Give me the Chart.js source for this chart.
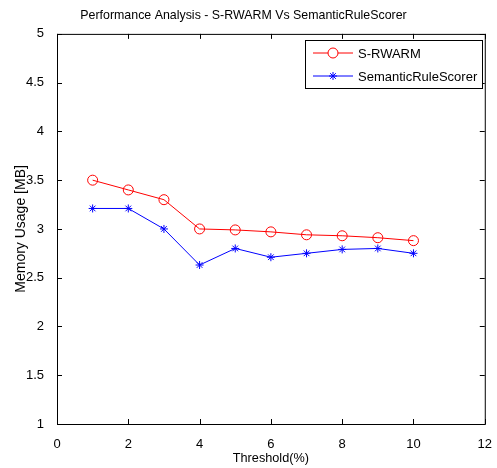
<!DOCTYPE html>
<html>
<head>
<meta charset="utf-8">
<script src="https://cdn.jsdelivr.net/npm/chart.js@4.4.1/dist/chart.umd.min.js"></script>
<style>
  html, body { margin: 0; padding: 0; background: #fff; }
  #wrap { width: 497px; height: 468px; }
</style>
</head>
<body>
<div id="wrap"><canvas id="myChart" width="497" height="468"></canvas></div>
<script>
// thresholds (%) on the x axis
const thresholds = [1, 2, 3, 4, 5, 6, 7, 8, 9, 10];
// memory usage in MB
const srwarm = [3.50, 3.40, 3.30, 3.00, 2.99, 2.97, 2.94, 2.93, 2.91, 2.88];
const semanticScorer = [3.21, 3.21, 3.00, 2.63, 2.80, 2.71, 2.75, 2.79, 2.80, 2.75];

const fontName = "'Liberation Sans', Arial, sans-serif";

// MATLAB style box with ticks pointing inward on all four sides
const boxPlugin = {
    id: 'boxTicks',
    afterDraw(chart) {
        const ctx = chart.ctx;
        const a = chart.chartArea;
        const xs = chart.scales.x, ys = chart.scales.y;
        ctx.save();
        ctx.strokeStyle = '#000';
        ctx.lineWidth = 1;
        ctx.strokeRect(a.left + 0.5, a.top + 0.5, a.right - a.left, a.bottom - a.top);
        ctx.beginPath();
        xs.ticks.forEach(t => {
            const px = Math.round(xs.getPixelForValue(t.value)) + 0.5;
            ctx.moveTo(px, a.bottom); ctx.lineTo(px, a.bottom - 5);
            ctx.moveTo(px, a.top); ctx.lineTo(px, a.top + 5);
        });
        ys.ticks.forEach(t => {
            const py = Math.round(ys.getPixelForValue(t.value)) + 0.5;
            ctx.moveTo(a.left, py); ctx.lineTo(a.left + 5, py);
            ctx.moveTo(a.right, py); ctx.lineTo(a.right - 5, py);
        });
        ctx.stroke();

        // legend box in the top right corner
        const lx = 305, ly = 40, lw = 177, lh = 48;
        ctx.fillStyle = '#fff';
        ctx.fillRect(lx, ly, lw, lh);
        ctx.strokeRect(lx + 0.5, ly + 0.5, lw, lh);
        ctx.font = '13px ' + fontName;
        ctx.textBaseline = 'middle';
        chart.data.datasets.forEach((ds, i) => {
            const y = ly + 13 + i * 23;
            ctx.strokeStyle = ds.borderColor;
            ctx.beginPath();
            ctx.moveTo(lx + 8, y); ctx.lineTo(lx + 48, y);
            ctx.stroke();
            Chart.helpers.drawPoint(ctx, {
                pointStyle: ds.pointStyle, radius: ds.pointRadius, borderWidth: 1
            }, lx + 28, y);
            ctx.fillStyle = '#000';
            ctx.fillText(ds.label, lx + 53, y + 1);
        });
        ctx.restore();
    }
};

new Chart(document.getElementById('myChart'), {
    type: 'line',
    data: {
        datasets: [{
            label: 'S-RWARM',
            data: thresholds.map((t, i) => ({ x: t, y: srwarm[i] })),
            borderColor: '#ff0000',
            backgroundColor: 'rgba(0,0,0,0)',
            borderWidth: 1,
            pointStyle: 'circle',
            pointRadius: 5,
            pointBorderWidth: 1,
            tension: 0
        }, {
            label: 'SemanticRuleScorer',
            data: thresholds.map((t, i) => ({ x: t, y: semanticScorer[i] })),
            borderColor: '#0000ff',
            backgroundColor: 'rgba(0,0,0,0)',
            borderWidth: 1,
            pointStyle: 'star',
            pointRadius: 4,
            pointBorderWidth: 1,
            tension: 0
        }]
    },
    options: {
        responsive: false,
        animation: false,
        layout: { padding: { left: 0, right: 10, top: 0, bottom: 0 } },
        plugins: {
            legend: { display: false },
            tooltip: { enabled: false },
            title: {
                display: true,
                text: 'Performance Analysis - S-RWARM Vs SemanticRuleScorer',
                color: '#000',
                font: { family: fontName, size: 12.4, weight: 'normal' },
                padding: { top: 8, bottom: 11 }
            }
        },
        scales: {
            x: {
                type: 'linear',
                min: 0, max: 12,
                ticks: { stepSize: 2, color: '#000', padding: 5, font: { family: fontName, size: 13 } },
                grid: { display: false },
                border: { display: false },
                title: { display: true, text: 'Threshold(%)', color: '#000', padding: { top: 0, bottom: 2 }, font: { family: fontName, size: 12.7 } },
                afterFit(scale) { scale.height = 44; }
            },
            y: {
                min: 1, max: 5,
                ticks: {
                    stepSize: 0.5, color: '#000', padding: 5, font: { family: fontName, size: 13 },
                    callback: v => String(v)
                },
                grid: { display: false },
                border: { display: false },
                title: { display: true, text: 'Memory Usage [MB]', color: '#000', padding: { top: 13, bottom: 0 }, font: { family: fontName, size: 14 } },
                afterFit(scale) { scale.width = 57; }
            }
        }
    },
    plugins: [boxPlugin]
});
</script>
</body>
</html>
